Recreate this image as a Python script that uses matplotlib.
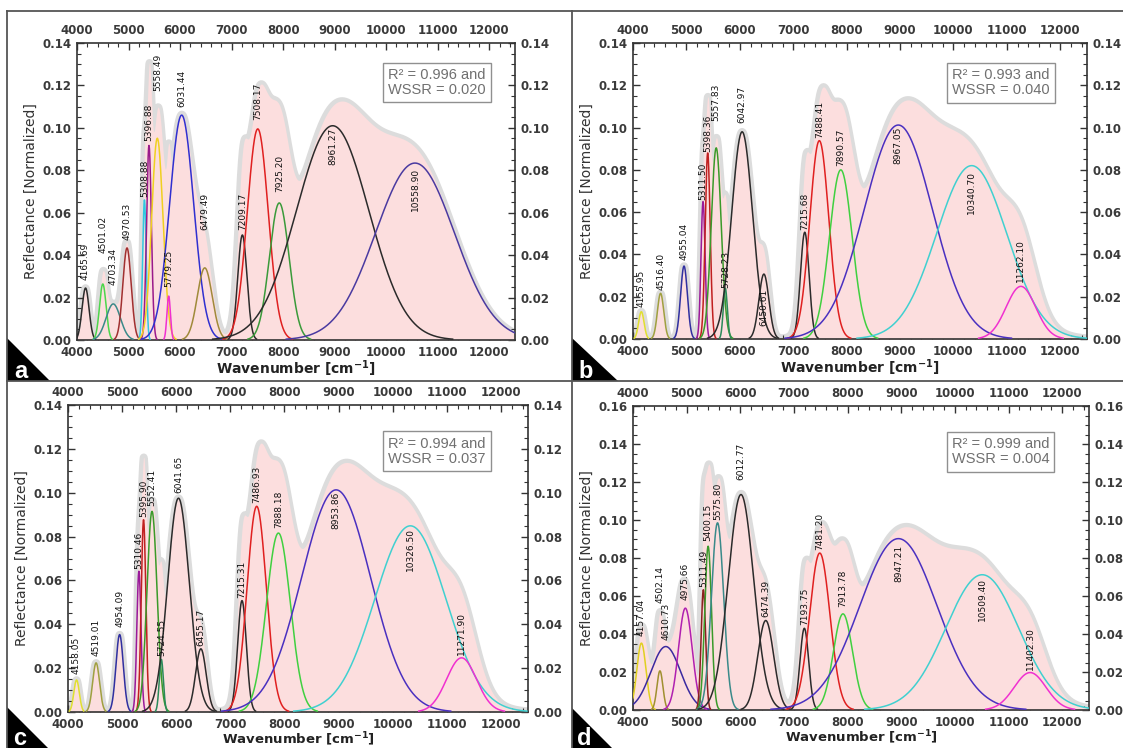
import numpy as np
import matplotlib.pyplot as plt
from matplotlib.patches import Polygon
from matplotlib.lines import Line2D
from matplotlib.ticker import MultipleLocator, FormatStrFormatter

W, H = 1123, 748

# fitted gaussian bands: centre [cm-1], height [normalized], FWHM [cm-1]
a_centre = [4165.69, 4501.02, 4703.34, 4970.53, 5308.88, 5396.88, 5558.49, 5779.25,
            6031.44, 6479.49, 7209.17, 7508.17, 7925.20, 8961.27, 10558.90]
a_height = [0.0245, 0.0264, 0.017, 0.0434, 0.066, 0.0917, 0.0951, 0.0207,
            0.106, 0.034, 0.0495, 0.0995, 0.0646, 0.101, 0.0834]
a_fwhm = [160, 150, 330, 190, 80, 110, 260, 80, 550, 340, 210, 480, 450, 1650, 1800]

b_centre = [4155.95, 4516.40, 4955.04, 5311.50, 5398.36, 5557.83, 5728.23, 6042.97,
            6450.61, 7215.68, 7488.41, 7890.57, 8967.05, 10340.70, 11262.10]
b_height = [0.0129, 0.0216, 0.0345, 0.065, 0.088, 0.0904, 0.024, 0.098,
            0.0307, 0.0505, 0.0938, 0.080, 0.1012, 0.082, 0.0249]
b_fwhm = [120, 140, 150, 90, 110, 220, 90, 460, 220, 190, 420, 500, 1500, 1550, 650]

c_centre = [4158.05, 4519.01, 4954.09, 5310.46, 5395.90, 5552.41, 5724.55, 6041.65,
            6455.17, 7215.31, 7486.93, 7888.18, 8953.86, 10326.50, 11271.90]
c_height = [0.0146, 0.0224, 0.0353, 0.0642, 0.0877, 0.0915, 0.024, 0.0975,
            0.0288, 0.0508, 0.0938, 0.0816, 0.1013, 0.0849, 0.0247]
c_fwhm = [120, 150, 160, 90, 100, 220, 90, 470, 230, 190, 420, 520, 1500, 1550, 650]

d_centre = [4157.04, 4502.14, 4610.73, 4975.66, 5311.49, 5400.15, 5575.80, 6012.77,
            6474.39, 7193.75, 7481.20, 7913.78, 8947.21, 10509.40, 11402.30]
d_height = [0.0352, 0.0206, 0.0334, 0.0536, 0.0633, 0.0862, 0.0985, 0.1134,
            0.0471, 0.043, 0.0826, 0.0506, 0.0902, 0.0712, 0.0197]
d_fwhm = [200, 130, 650, 300, 100, 150, 270, 560, 350, 190, 450, 420, 1700, 1600, 700]

r2 = ['0.996', '0.993', '0.994', '0.999']
wssr = ['0.020', '0.040', '0.037', '0.004']
panel_letters = ['a', 'b', 'c', 'd']

# line colours for each band
blk = '#2b2b2b'
a_cols = [blk, '#4cd64c', '#3a8a8a', '#a03030', '#30c8e0', '#9a1a8a', '#f0d020', '#f030d0',
          '#3030d0', '#a08a3a', blk, '#e02020', '#3a9a3a', blk, '#4a3aa0']
b_cols = ['#e0e030', '#a0a040', '#3030a0', '#9a1a9a', '#c02020', '#3a9a2a', '#2a8a5a', blk,
          blk, blk, '#e02020', '#40d040', '#4a30c0', '#40d0d0', '#f030d0']
c_cols = b_cols
d_cols = ['#e0d020', '#a09030', '#3a2aa0', '#b020b0', '#8b2020', '#3a9a2a', '#3a8a8a', blk,
          blk, blk, '#e02020', '#40d040', '#4a30c0', '#40d0d0', '#f030d0']

# gap between peak top and its label, in pixels (negative = label inside curve)
a_gap = [8, 31, 19, 8, 3, 4, 47, 9, 8, 38, 5, 9, 11, -2, -5]
b_gap = [5, 3, 6, 2, 1, 27, 0, 9, -15, 2, 3, 4, -2, -5, 4]
c_gap = [6, 7, 8, 2, 3, 5, 3, 5, 3, 3, 3, 5, -2, -2, 3]
d_gap = [7, 68, 7, 8, 3, 5, 3, 15, 4, 3, 3, 7, -6, -3, 3]

fig = plt.figure(figsize=(W / 100, H / 100), dpi=100)


def px_axes(l, t, r, b):
    return fig.add_axes([l / W, 1 - b / H, (r - l) / W, (b - t) / H])


def panel(ax, centre, height, fwhm, cols, gaps, ymax, k, box_xy, bottom_row=False):
    x = np.linspace(4000, 12500, 3000)
    comps = [h * np.exp(-4 * np.log(2) * (x - c) ** 2 / w ** 2)
             for c, h, w in zip(centre, height, fwhm)]
    total = np.sum(comps, axis=0)
    # envelope: grey halo + pink fill
    ax.plot(x, total, color='#dcdcdc', lw=5.5, zorder=1)
    ax.fill_between(x, 0, total, color='#fcdede', lw=0, zorder=2)
    for y, col in zip(comps, cols):
        ax.plot(x, np.where(y > 4e-4, y, np.nan), color=col, lw=1.1, zorder=3)
    # band labels
    for c, h, g in zip(centre, height, gaps):
        ax.annotate(f'{c:.2f}', (c, h), xytext=(0, g * 0.72), textcoords='offset points',
                    rotation=90, ha='center', va='bottom' if g >= 0 else 'top',
                    fontsize=6.5, fontweight='normal', color='#111111', zorder=4)

    ax.set_xlim(4000, 12500)
    ax.set_ylim(0, ymax)
    ax.xaxis.set_major_locator(MultipleLocator(1000))
    ax.xaxis.set_minor_locator(MultipleLocator(200))
    ax.yaxis.set_major_locator(MultipleLocator(0.02))
    ax.yaxis.set_minor_locator(MultipleLocator(0.005))
    ax.xaxis.set_major_formatter(FormatStrFormatter('%d'))
    ax.yaxis.set_major_formatter(FormatStrFormatter('%.2f'))
    ax.tick_params(which='both', direction='in', top=True, right=True,
                   labeltop=True, labelright=True, labelsize=8.5,
                   labelcolor='#3a3a3a', color='#333333', pad=4)
    ax.tick_params(which='major', length=5, width=1)
    ax.tick_params(which='minor', length=3, width=0.8)
    for s in ax.spines.values():
        s.set_color('#333333')
        s.set_linewidth(1.2)

    ax.set_ylabel('Reflectance [Normalized]', fontsize=10, fontweight='normal',
                  color='#333333', labelpad=3)
    ax.set_xlabel('Wavenumber [cm$^{-1}$]', fontsize=9.5 if bottom_row else 10,
                  fontweight='bold', color='#222222', labelpad=-0.5 if bottom_row else 0)

    ax.text(box_xy[0], box_xy[1], f'R² = {r2[k]} and\nWSSR = {wssr[k]}',
            transform=ax.transAxes, ha='center', va='center', fontsize=10.5,
            fontweight='normal', family='Liberation Sans', color='#707070',
            linespacing=1.15,
            bbox=dict(boxstyle='square,pad=0.35', fc='white', ec='#909090', lw=1),
            zorder=5)


plt.rcParams['font.weight'] = 'bold'
plt.rcParams['mathtext.default'] = 'bf'

ax_a = px_axes(77, 43, 515, 340)
panel(ax_a, a_centre, a_height, a_fwhm, a_cols, a_gap, 0.14, 0, (0.822, 0.867))
ax_b = px_axes(633, 43, 1087, 339)
panel(ax_b, b_centre, b_height, b_fwhm, b_cols, b_gap, 0.14, 1, (0.81, 0.866))
ax_c = px_axes(68, 405, 528, 712)
panel(ax_c, c_centre, c_height, c_fwhm, c_cols, c_gap, 0.14, 2, (0.802, 0.849), True)
ax_d = px_axes(633, 406, 1089, 710)
panel(ax_d, d_centre, d_height, d_fwhm, d_cols, d_gap, 0.16, 3, (0.806, 0.85), True)


# panel frame lines
def fig_line(x0, y0, x1, y1):
    fig.add_artist(Line2D([x0 / W, x1 / W], [1 - y0 / H, 1 - y1 / H],
                          transform=fig.transFigure, color='#555555', lw=1.3))


fig_line(7, 11, W, 11)
fig_line(7, 11, 7, H)
fig_line(572, 11, 572, H)
fig_line(7, 381, W, 381)

# black corner triangles with panel letters
tri = [((7, 338), (7, 381), (50, 381)),
       ((572, 338), (572, 381), (618, 381)),
       ((7, 707), (7, 750), (50, 750)),
       ((572, 708), (572, 750), (614, 750))]
letter_pos = [(14, 378), (578, 378), (13, 745), (577, 745)]
for pts, lab, (lx, ly) in zip(tri, panel_letters, letter_pos):
    fig.add_artist(Polygon([(px / W, 1 - py / H) for px, py in pts], closed=True,
                           transform=fig.transFigure, color='black', lw=0))
    fig.text(lx / W, 1 - ly / H, lab, color='white', fontsize=17, fontweight='bold',
             family='Liberation Sans', ha='left', va='baseline')

fig.savefig('out.png', dpi=100)
